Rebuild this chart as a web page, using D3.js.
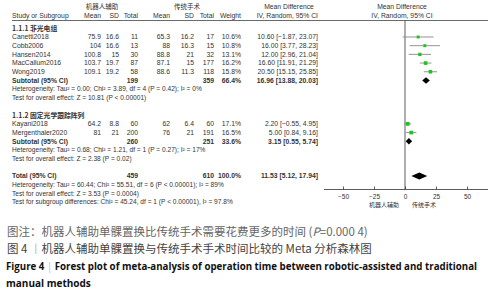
<!DOCTYPE html>
<html>
<head>
<meta charset="utf-8">
<script src="https://cdn.jsdelivr.net/npm/d3@7"></script>
<style>
    body { margin: 0; background: #fff; }
    svg { display: block; }
</style>
</head>
<body>
<svg id="chart"></svg>
<script>
/*
    Forest plot: operation time, robotic-assisted vs traditional UKA
 */

const studies = ["Canetti2018", "Cobb2006", "Hansen2014", "MacCallum2016", "Wong2019", "Kayani2018", "Mergenthaler2020"];
const studyGroup = [0, 0, 0, 0, 0, 1, 1];
const robotMean = [75.9, 104, 100.8, 103.7, 109.1, 64.2, 81];
const robotSD = [16.6, 16.6, 15, 19.7, 19.2, 8.8, 21];
const robotN = [11, 13, 30, 87, 58, 60, 200];
const manualMean = [65.3, 88, 88.8, 87.1, 88.6, 62, 76];
const manualSD = [16.2, 16.3, 21, 15, 11.3, 6.4, 21];
const manualN = [17, 15, 32, 177, 118, 60, 191];
const weights = [10.6, 10.8, 13.1, 16.2, 15.8, 17.1, 16.5];
const md = [10.60, 16.00, 12.00, 16.60, 20.50, 2.20, 5.00];
const ciLow = [-1.87, 3.77, 2.96, 11.91, 15.15, -0.55, 0.84];
const ciHigh = [23.07, 28.23, 21.04, 21.29, 25.85, 4.95, 9.16];

const groups = ["1.1.1 非光电组", "1.1.2 固定光学跟踪阵列"];
const subRobotN = [199, 260];
const subManualN = [359, 251];
const subWeight = [66.4, 33.6];
const subMd = [16.96, 3.15];
const subLow = [13.88, 0.55];
const subHigh = [20.03, 5.74];
const hetText = [
    "Heterogeneity: Tau² = 0.00; Chi² = 3.89, df = 4 (P = 0.42); I² = 0%",
    "Heterogeneity: Tau² = 0.68; Chi² = 1.21, df = 1 (P = 0.27); I² = 17%"
];
const effectText = [
    "Test for overall effect: Z = 10.81 (P < 0.00001)",
    "Test for overall effect: Z = 2.38 (P = 0.02)"
];

const total = { robotN: 459, manualN: 610, weight: 100.0, md: 11.53, low: 5.12, high: 17.94 };
const totalNotes = [
    "Heterogeneity: Tau² = 60.44; Chi² = 55.51, df = 6 (P < 0.00001); I² = 89%",
    "Test for overall effect: Z = 3.53 (P = 0.0004)",
    "Test for subgroup differences: Chi² = 45.24, df = 1 (P < 0.00001), I² = 97.8%"
];

const tickValues = [-50, -25, 0, 25, 50];
const axisLabels = ["机器人辅助", "传统手术"];

const config = {
    width: 490,
    height: 300,
    rowTop: 28.3,
    rowStep: 8.69,
    headerY1: 7,
    headerY2: 16,
    ruleY: 20.5,
    axisY: 189.5,
    fontSize: 6.8,
    font: "'Liberation Sans', Arial, sans-serif",
    cjk: "'Noto Sans CJK SC', sans-serif",
    text: "#333",
    green: "#1fc21f",
    ciLine: "#888"
};

// right edges of the numeric columns
const cols = { study: 12, m1: 101, sd1: 119, n1: 138, m2: 170, sd2: 194, n2: 214, w: 241, ci: 318 };

// build the row list
const rows = [];
groups.forEach((g, gi) => {
    rows.push({ type: "group", label: g });
    studies.forEach((s, i) => { if (studyGroup[i] === gi) rows.push({ type: "study", i: i }); });
    rows.push({ type: "subtotal", gi: gi });
    rows.push({ type: "note", text: hetText[gi] });
    rows.push({ type: "note", text: effectText[gi] });
    rows.push({ type: "blank" });
});
rows.push({ type: "total" });
totalNotes.forEach(t => rows.push({ type: "note", text: t }));

const fmt2 = d3.format(".2f");
const ciText = (m, l, h) => `${fmt2(m)} [${fmt2(l)}, ${fmt2(h)}]`;

const svg = d3.select("#chart")
    .attr("width", config.width)
    .attr("height", config.height)
    .style("font-family", config.font);

const y = d3.scaleLinear()
    .domain([0, rows.length - 1])
    .range([config.rowTop, config.rowTop + (rows.length - 1) * config.rowStep]);

const x = d3.scaleLinear().domain([-50, 50]).range([343, 467]);

// ---------- headers
const head = svg.append("g").attr("fill", config.text).attr("font-size", config.fontSize);

head.append("text").attr("x", 102).attr("y", config.headerY1).attr("dy", "0.35em")
    .attr("text-anchor", "middle").attr("font-family", config.cjk).attr("font-size", 6.5).text("机器人辅助");
head.append("text").attr("x", 187).attr("y", config.headerY1).attr("dy", "0.35em")
    .attr("text-anchor", "middle").attr("font-family", config.cjk).attr("font-size", 6.5).text("传统手术");
head.append("text").attr("x", 289).attr("y", config.headerY1).attr("dy", "0.35em")
    .attr("text-anchor", "middle").text("Mean Difference");
head.append("text").attr("x", 402).attr("y", config.headerY1).attr("dy", "0.35em")
    .attr("text-anchor", "middle").text("Mean Difference");

const header2 = [
    ["Study or Subgroup", cols.study, "start"],
    ["Mean", cols.m1, "end"], ["SD", cols.sd1, "end"], ["Total", cols.n1, "end"],
    ["Mean", cols.m2, "end"], ["SD", cols.sd2, "end"], ["Total", cols.n2, "end"],
    ["Weight", cols.w, "end"], ["IV, Random, 95% CI", cols.ci, "end"],
    ["IV, Random, 95% CI", 402, "middle"]
];
head.selectAll("text.h2")
    .data(header2)
    .enter()
    .append("text")
    .attr("class", "h2")
    .attr("x", d => d[1])
    .attr("y", config.headerY2)
    .attr("dy", "0.35em")
    .attr("text-anchor", d => d[2])
    .text(d => d[0]);

svg.append("line")
    .attr("x1", cols.study).attr("x2", 488)
    .attr("y1", config.ruleY).attr("y2", config.ruleY)
    .attr("stroke", "#444").attr("stroke-width", 0.8);

// ---------- table rows
const table = svg.append("g").attr("fill", config.text).attr("font-size", config.fontSize);

function cell (g, txt, xPos, anchor) {
    g.append("text")
        .attr("x", xPos)
        .attr("dy", "0.35em")
        .attr("text-anchor", anchor || "end")
        .text(txt);
}

const rowG = table.selectAll("g.row")
    .data(rows)
    .enter()
    .append("g")
    .attr("class", "row")
    .attr("transform", (d, i) => `translate(0, ${y(i)})`);

rowG.each(function (d) {
    const g = d3.select(this);
    if (d.type === "group") {
        g.append("text").attr("x", cols.study).attr("dy", "0.35em")
            .attr("font-family", config.cjk).attr("font-weight", "bold").text(d.label);
    } else if (d.type === "study") {
        const i = d.i;
        cell(g, studies[i], cols.study, "start");
        cell(g, String(robotMean[i]), cols.m1);
        cell(g, String(robotSD[i]), cols.sd1);
        cell(g, String(robotN[i]), cols.n1);
        cell(g, String(manualMean[i]), cols.m2);
        cell(g, String(manualSD[i]), cols.sd2);
        cell(g, String(manualN[i]), cols.n2);
        cell(g, weights[i].toFixed(1) + "%", cols.w);
        cell(g, ciText(md[i], ciLow[i], ciHigh[i]), cols.ci);
    } else if (d.type === "subtotal") {
        const gi = d.gi;
        cell(g, "Subtotal (95% CI)", cols.study, "start");
        cell(g, String(subRobotN[gi]), cols.n1);
        cell(g, String(subManualN[gi]), cols.n2);
        cell(g, subWeight[gi].toFixed(1) + "%", cols.w);
        cell(g, ciText(subMd[gi], subLow[gi], subHigh[gi]), cols.ci);
        g.selectAll("text").attr("font-weight", "bold");
    } else if (d.type === "total") {
        cell(g, "Total (95% CI)", cols.study, "start");
        cell(g, String(total.robotN), cols.n1);
        cell(g, String(total.manualN), cols.n2);
        cell(g, total.weight.toFixed(1) + "%", cols.w);
        cell(g, ciText(total.md, total.low, total.high), cols.ci);
        g.selectAll("text").attr("font-weight", "bold");
    } else if (d.type === "note") {
        g.append("text").attr("x", cols.study).attr("dy", "0.35em")
            .attr("font-size", 6.6).text(d.text);
    }
});

// ---------- plot
const plot = svg.append("g");

plot.append("line")
    .attr("x1", x(0)).attr("x2", x(0))
    .attr("y1", config.ruleY).attr("y2", config.axisY)
    .attr("stroke", "#333").attr("stroke-width", 0.8);

const studyRows = rows.map((d, i) => ({ d, i })).filter(r => r.d.type === "study");

plot.selectAll("line.ci")
    .data(studyRows)
    .enter()
    .append("line")
    .attr("class", "ci")
    .attr("x1", r => x(ciLow[r.d.i]))
    .attr("x2", r => x(ciHigh[r.d.i]))
    .attr("y1", r => y(r.i))
    .attr("y2", r => y(r.i))
    .attr("stroke", config.ciLine)
    .attr("stroke-width", 0.9);

const size = w => Math.sqrt(w) * 0.9;

plot.selectAll("rect.est")
    .data(studyRows)
    .enter()
    .append("rect")
    .attr("class", "est")
    .attr("x", r => x(md[r.d.i]) - size(weights[r.d.i]) / 2)
    .attr("y", r => y(r.i) - size(weights[r.d.i]) / 2)
    .attr("width", r => size(weights[r.d.i]))
    .attr("height", r => size(weights[r.d.i]))
    .attr("fill", config.green);

function diamond (m, l, h, cy, hh) {
    return `M${x(l)},${cy}L${x(m)},${cy - hh}L${x(h)},${cy}L${x(m)},${cy + hh}Z`;
}

const diamonds = rows.map((d, i) => ({ d, i })).filter(r => r.d.type === "subtotal" || r.d.type === "total");

plot.selectAll("path.diamond")
    .data(diamonds)
    .enter()
    .append("path")
    .attr("class", "diamond")
    .attr("d", r => r.d.type === "total"
        ? diamond(total.md, total.low, total.high, y(r.i), 3.5)
        : diamond(subMd[r.d.gi], subLow[r.d.gi], subHigh[r.d.gi], y(r.i), 3.2))
    .attr("fill", "#000");

// axis
const xAxis = d3.axisBottom(x).tickValues(tickValues).tickSize(-3).tickPadding(5);

plot.append("g")
    .attr("class", "x-axis")
    .attr("transform", `translate(0, ${config.axisY})`)
    .call(xAxis)
    .call(g => g.select(".domain").remove())
    .call(g => g.selectAll("line").attr("stroke", "#333").attr("stroke-width", 0.8))
    .call(g => g.selectAll("text").attr("fill", config.text).attr("font-size", 6.5).attr("font-family", config.font));

plot.append("line")
    .attr("x1", 324).attr("x2", 488)
    .attr("y1", config.axisY).attr("y2", config.axisY)
    .attr("stroke", "#333").attr("stroke-width", 0.8);

plot.append("text")
    .attr("x", x(0) - 6).attr("y", 205).attr("dy", "0.35em")
    .attr("text-anchor", "end").attr("font-family", config.cjk)
    .attr("font-size", 6).attr("fill", config.text).text(axisLabels[0]);
plot.append("text")
    .attr("x", x(0) + 7).attr("y", 205).attr("dy", "0.35em")
    .attr("text-anchor", "start").attr("font-family", config.cjk)
    .attr("font-size", 6).attr("fill", config.text).text(axisLabels[1]);

// ---------- caption
const cap = svg.append("g");

const c1 = cap.append("text")
    .attr("x", 7).attr("y", 236)
    .attr("font-family", config.cjk).attr("font-size", 11.5).attr("fill", "#666");
c1.append("tspan").text("图注：机器人辅助单髁置换比传统手术需要花费更多的时间 (");
c1.append("tspan").attr("font-style", "italic").text("P");
c1.append("tspan").text("=0.000 4)");

const c2 = cap.append("text")
    .attr("x", 7).attr("y", 252.5)
    .attr("font-family", config.cjk).attr("font-size", 11.5).attr("fill", "#444");
c2.append("tspan").text("图 4 ");
c2.append("tspan").attr("fill", "#bbb").text("丨");
c2.append("tspan").text("机器人辅助单髁置换与传统手术手术时间比较的 Meta 分析森林图");

const c3 = cap.append("text")
    .attr("x", 6).attr("y", 269.5)
    .attr("font-family", "'Open Sans', sans-serif").attr("font-size", 10)
    .attr("font-weight", "bold").attr("fill", "#111")
    .attr("textLength", 471).attr("lengthAdjust", "spacingAndGlyphs");
c3.append("tspan").text("Figure 4 ");
c3.append("tspan").attr("fill", "#bbb").attr("font-weight", "normal").text(" | ");
c3.append("tspan").text(" Forest plot of meta-analysis of operation time between robotic-assisted and traditional");

cap.append("text")
    .attr("x", 6).attr("y", 286.5)
    .attr("font-family", "'Open Sans', sans-serif").attr("font-size", 10)
    .attr("font-weight", "bold").attr("fill", "#111")
    .text("manual methods");
</script>
</body>
</html>
